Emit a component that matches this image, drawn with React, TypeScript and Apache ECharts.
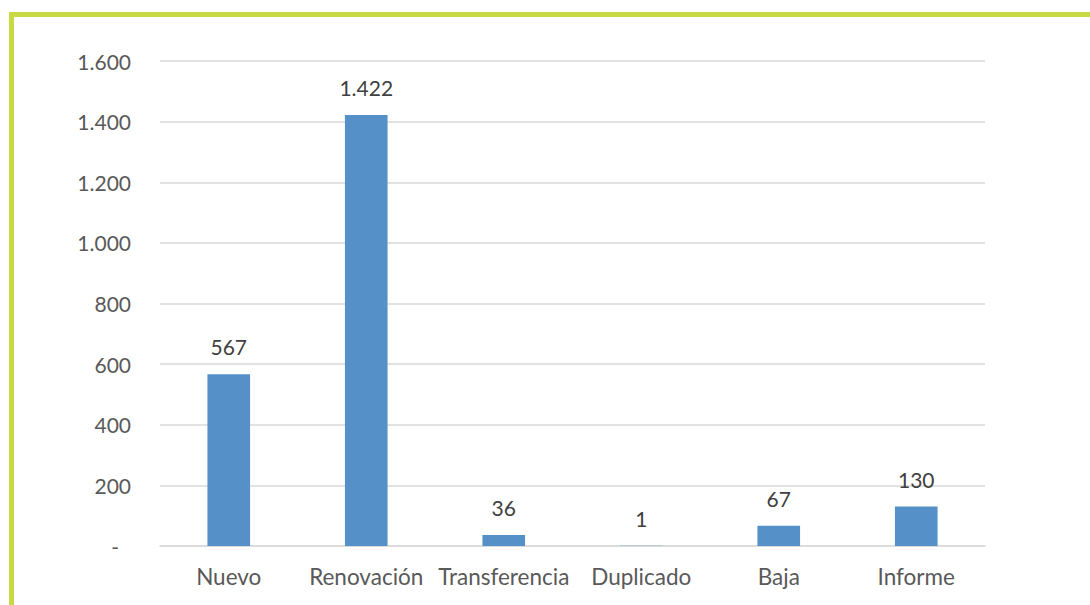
import React, { useEffect, useRef } from "react";
import * as echarts from "echarts";

const categories = ["Nuevo", "Renovación", "Transferencia", "Duplicado", "Baja", "Informe"];
const values = [567, 1422, 36, 1, 67, 130];
const yMin = 0;
const yMax = 1600;
const yInterval = 200;

const fmt = (v: number) => {
  const s = Math.round(v).toString();
  return s.replace(/\B(?=(\d{3})+(?!\d))/g, ".");
};

export default function App() {
  const ref = useRef<HTMLDivElement>(null);
  useEffect(() => {
    if (!ref.current) return;
    const chart = echarts.init(ref.current, undefined, { renderer: "svg" });
    const font = "Lato, 'Liberation Sans', sans-serif";
    chart.setOption({
      animation: false,
      backgroundColor: "#ffffff",
      textStyle: { fontFamily: font },
      grid: { left: 160, right: 105, top: 61, bottom: 59, containLabel: false },
      graphic: [
        { type: "rect", shape: { x: 9, y: 12, width: 1081, height: 5 }, style: { fill: "#C8D944" }, silent: true },
        { type: "rect", shape: { x: 9, y: 12, width: 5, height: 593 }, style: { fill: "#C8D944" }, silent: true },
      ],
      xAxis: {
        type: "category",
        data: categories,
        axisLine: { show: true, lineStyle: { color: "#d9d9d9", width: 1.5 } },
        axisTick: { show: false },
        axisLabel: { color: "#595959", fontSize: 22.5, fontFamily: font, margin: 19, interval: 0 },
      },
      yAxis: {
        type: "value",
        min: yMin,
        max: yMax,
        interval: yInterval,
        axisLine: { show: false },
        axisTick: { show: false },
        splitLine: { lineStyle: { color: "#d9d9d9", width: 1.5 } },
        axisLabel: {
          color: "#595959",
          fontSize: 21,
          fontFamily: font,
          margin: 29,
          formatter: (v: number) => (v === 0 ? "{z|-}" : fmt(v)),
          rich: { z: { color: "#595959", fontSize: 21, fontFamily: font, padding: [0, 12, 0, 0] } },
        },
      },
      series: [
        {
          type: "bar",
          data: values,
          barWidth: "31%",
          itemStyle: { color: "#5591C8" },
          label: {
            show: true,
            position: "top",
            distance: 17,
            color: "#404040",
            fontSize: 21,
            fontFamily: font,
            formatter: (p: any) => fmt(p.value),
          },
        },
      ],
    });
    return () => chart.dispose();
  }, []);
  return <div ref={ref} style={{ position: "fixed", left: 0, top: 0, width: 1090, height: 605 }} />;
}
